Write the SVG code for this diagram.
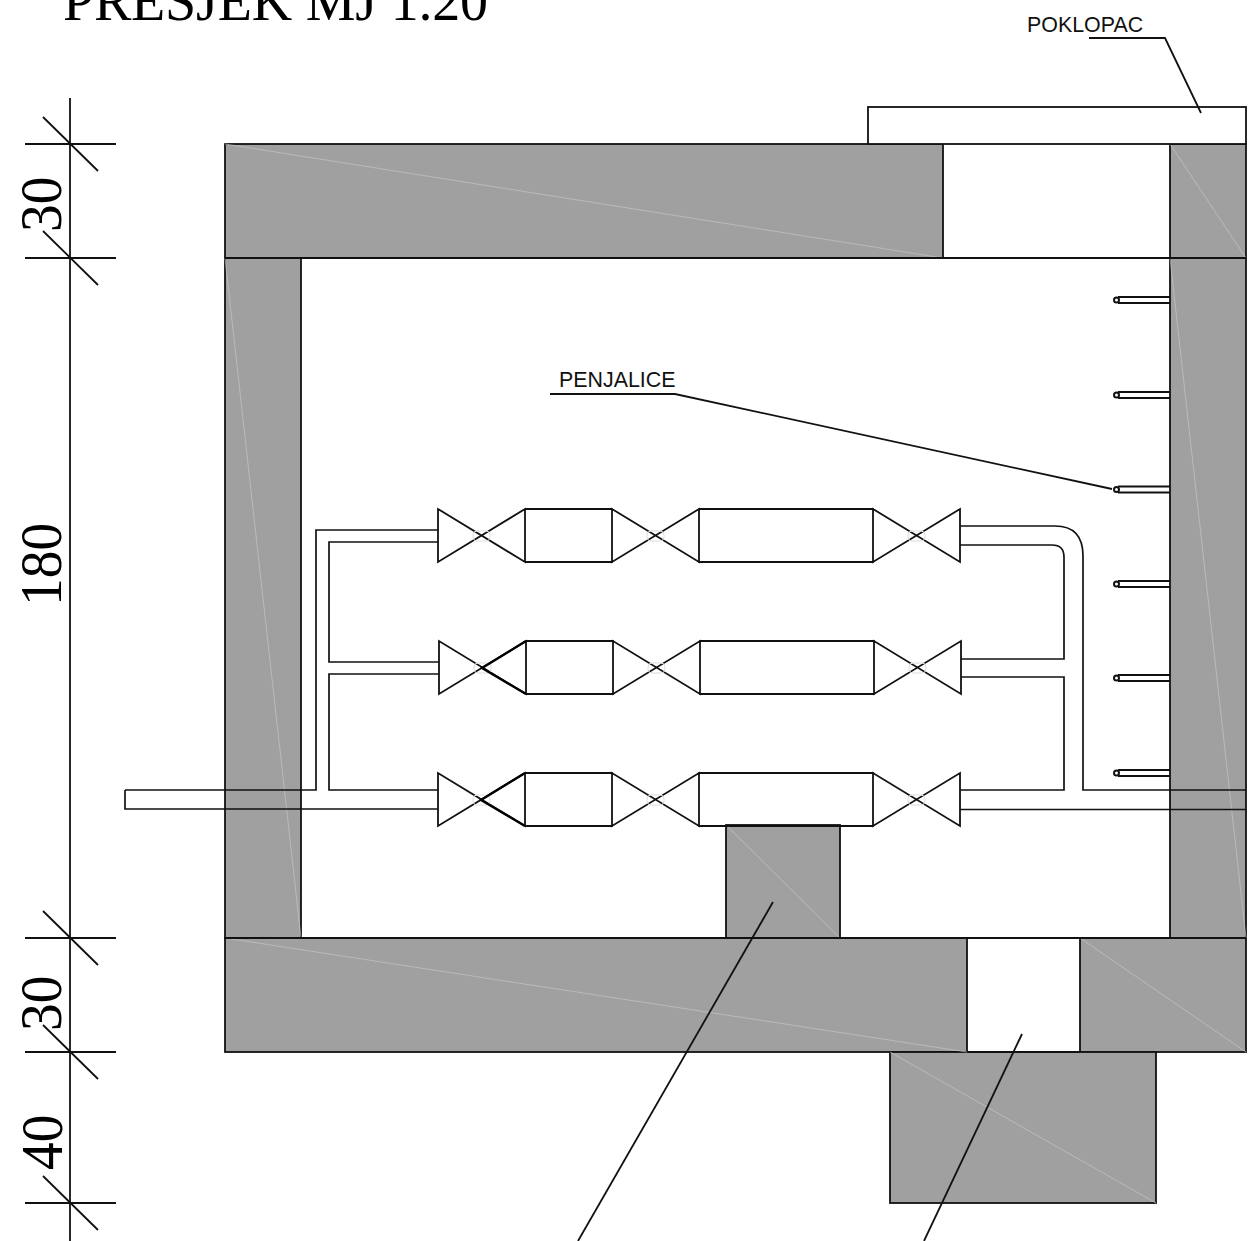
<svg xmlns="http://www.w3.org/2000/svg" width="1254" height="1241" viewBox="0 0 1254 1241">
<defs>
<style>
.wall{fill:#a0a0a0;stroke:#111;stroke-width:1.8}
.hatch{stroke:#c6c6c6;stroke-width:.7;fill:none}
.l{stroke:#111;stroke-width:1.8;fill:none}
.b{stroke:#000;stroke-width:2.4;fill:none}
.p{stroke:#111;stroke-width:1.7;fill:none}
.r{stroke:#111;stroke-width:2;fill:none}
.t{font-family:"Liberation Serif","Times New Roman",serif;font-size:56px;fill:#000}
.d{font-family:"Liberation Serif","Times New Roman",serif;font-size:59px;fill:#000}
.s{font-family:"Liberation Sans",Arial,sans-serif;font-size:21.4px;fill:#111}
.e{fill:none;stroke:#dcdcdc;stroke-width:1}
</style>
<g id="unit">
<path class="l" d="M0 0V53L87 0V53L0 0ZM87 0H174V53H87M174 0V53L261 0V53L174 0ZM261 0H435V53H261ZM435 0V53L522 0V53L435 0Z"/>
<rect class="e" x="35" y="22" width="17" height="10" rx="4"/>
<rect class="e" x="209" y="22" width="17" height="10" rx="4"/>
<rect class="e" x="470" y="22" width="17" height="10" rx="4"/>
</g>
<g id="rung">
<path class="r" d="M1118 -3H1170M1118 3H1170"/>
<circle class="r" cx="1116.500" cy="0" r="2.500" fill="#fff"/>
</g>
<g id="tick">
<path class="l" d="M25 0H116M43 -27L98 27"/>
</g>
</defs>
<rect width="1254" height="1241" fill="#fff"/>
<g id="walls">
<rect class="wall" x="225" y="144" width="718" height="114"/>
<rect class="wall" x="1170" y="144" width="76" height="114"/>
<rect class="wall" x="225" y="258" width="76" height="680"/>
<rect class="wall" x="1170" y="258" width="76" height="680"/>
<rect class="wall" x="726" y="825" width="114" height="113"/>
<rect class="wall" x="225" y="938" width="742" height="114"/>
<rect class="wall" x="1080" y="938" width="166" height="114"/>
<rect class="wall" x="890" y="1052" width="266" height="151"/>
<path class="hatch" d="M225 144L943 258M1170 144L1246 258M225 258L301 938M1170 258L1246 938M726 825L840 938M225 938L967 1052M1080 938L1246 1052M890 1052L1156 1203"/>
<rect x="868" y="107" width="378" height="37" fill="#fff" stroke="#111" stroke-width="1.800"/>
<path class="l" d="M225 258H1246M225 938H1246M967 1052H1080"/>
</g>
<g id="pipes">
<path class="p" d="M125 790H316V530H438M438 542H329V662H439M439 674H329V790H438M125 790V809H438"/>
<path class="p" d="M960 526H1055Q1083 526 1083 556V790H1246M960 545H1052Q1064 545 1064 557V659H961M961 677H1064V790H960M960 809.500H1246"/>
</g>
<g id="units">
<use id="unit-top" href="#unit" x="438" y="509"/>
<use id="unit-middle" href="#unit" x="439" y="641"/>
<use id="unit-bottom" href="#unit" x="438" y="773"/>
<path class="b" d="M526 641L482 668L526 694M525 773L481 800L525 826"/>
</g>
<g id="rungs">
<use href="#rung" y="300"/>
<use href="#rung" y="395"/>
<use href="#rung" y="489.500"/>
<use href="#rung" y="584"/>
<use href="#rung" y="678"/>
<use href="#rung" y="773"/>
</g>
<g id="leaders">
<path class="l" d="M550 394H675L1112 489"/>
<path class="l" d="M1089 38H1165L1201 113"/>
<path class="l" d="M773 902L578 1241"/>
<path class="l" d="M1022 1034L924 1241"/>
</g>
<g id="dimensions">
<path class="l" d="M70 98V1241"/>
<use href="#tick" y="144"/>
<use href="#tick" y="258"/>
<use href="#tick" y="938"/>
<use href="#tick" y="1052"/>
<use href="#tick" y="1203"/>
<text class="d" transform="translate(61 232) rotate(-90) scale(.94 1)">30</text>
<text class="d" transform="translate(61 1031) rotate(-90) scale(.94 1)">30</text>
<text class="d" transform="translate(61 606) rotate(-90) scale(.94 1)">180</text>
<text class="d" transform="translate(62 1170) rotate(-90) scale(.94 1)">40</text>
</g>
<g id="labels">
<text class="t" x="63" y="20" textLength="425">PRESJEK MJ 1.20</text>
<text class="s" x="1027" y="32">POKLOPAC</text>
<text class="s" x="559" y="387">PENJALICE</text>
</g>
</svg>
